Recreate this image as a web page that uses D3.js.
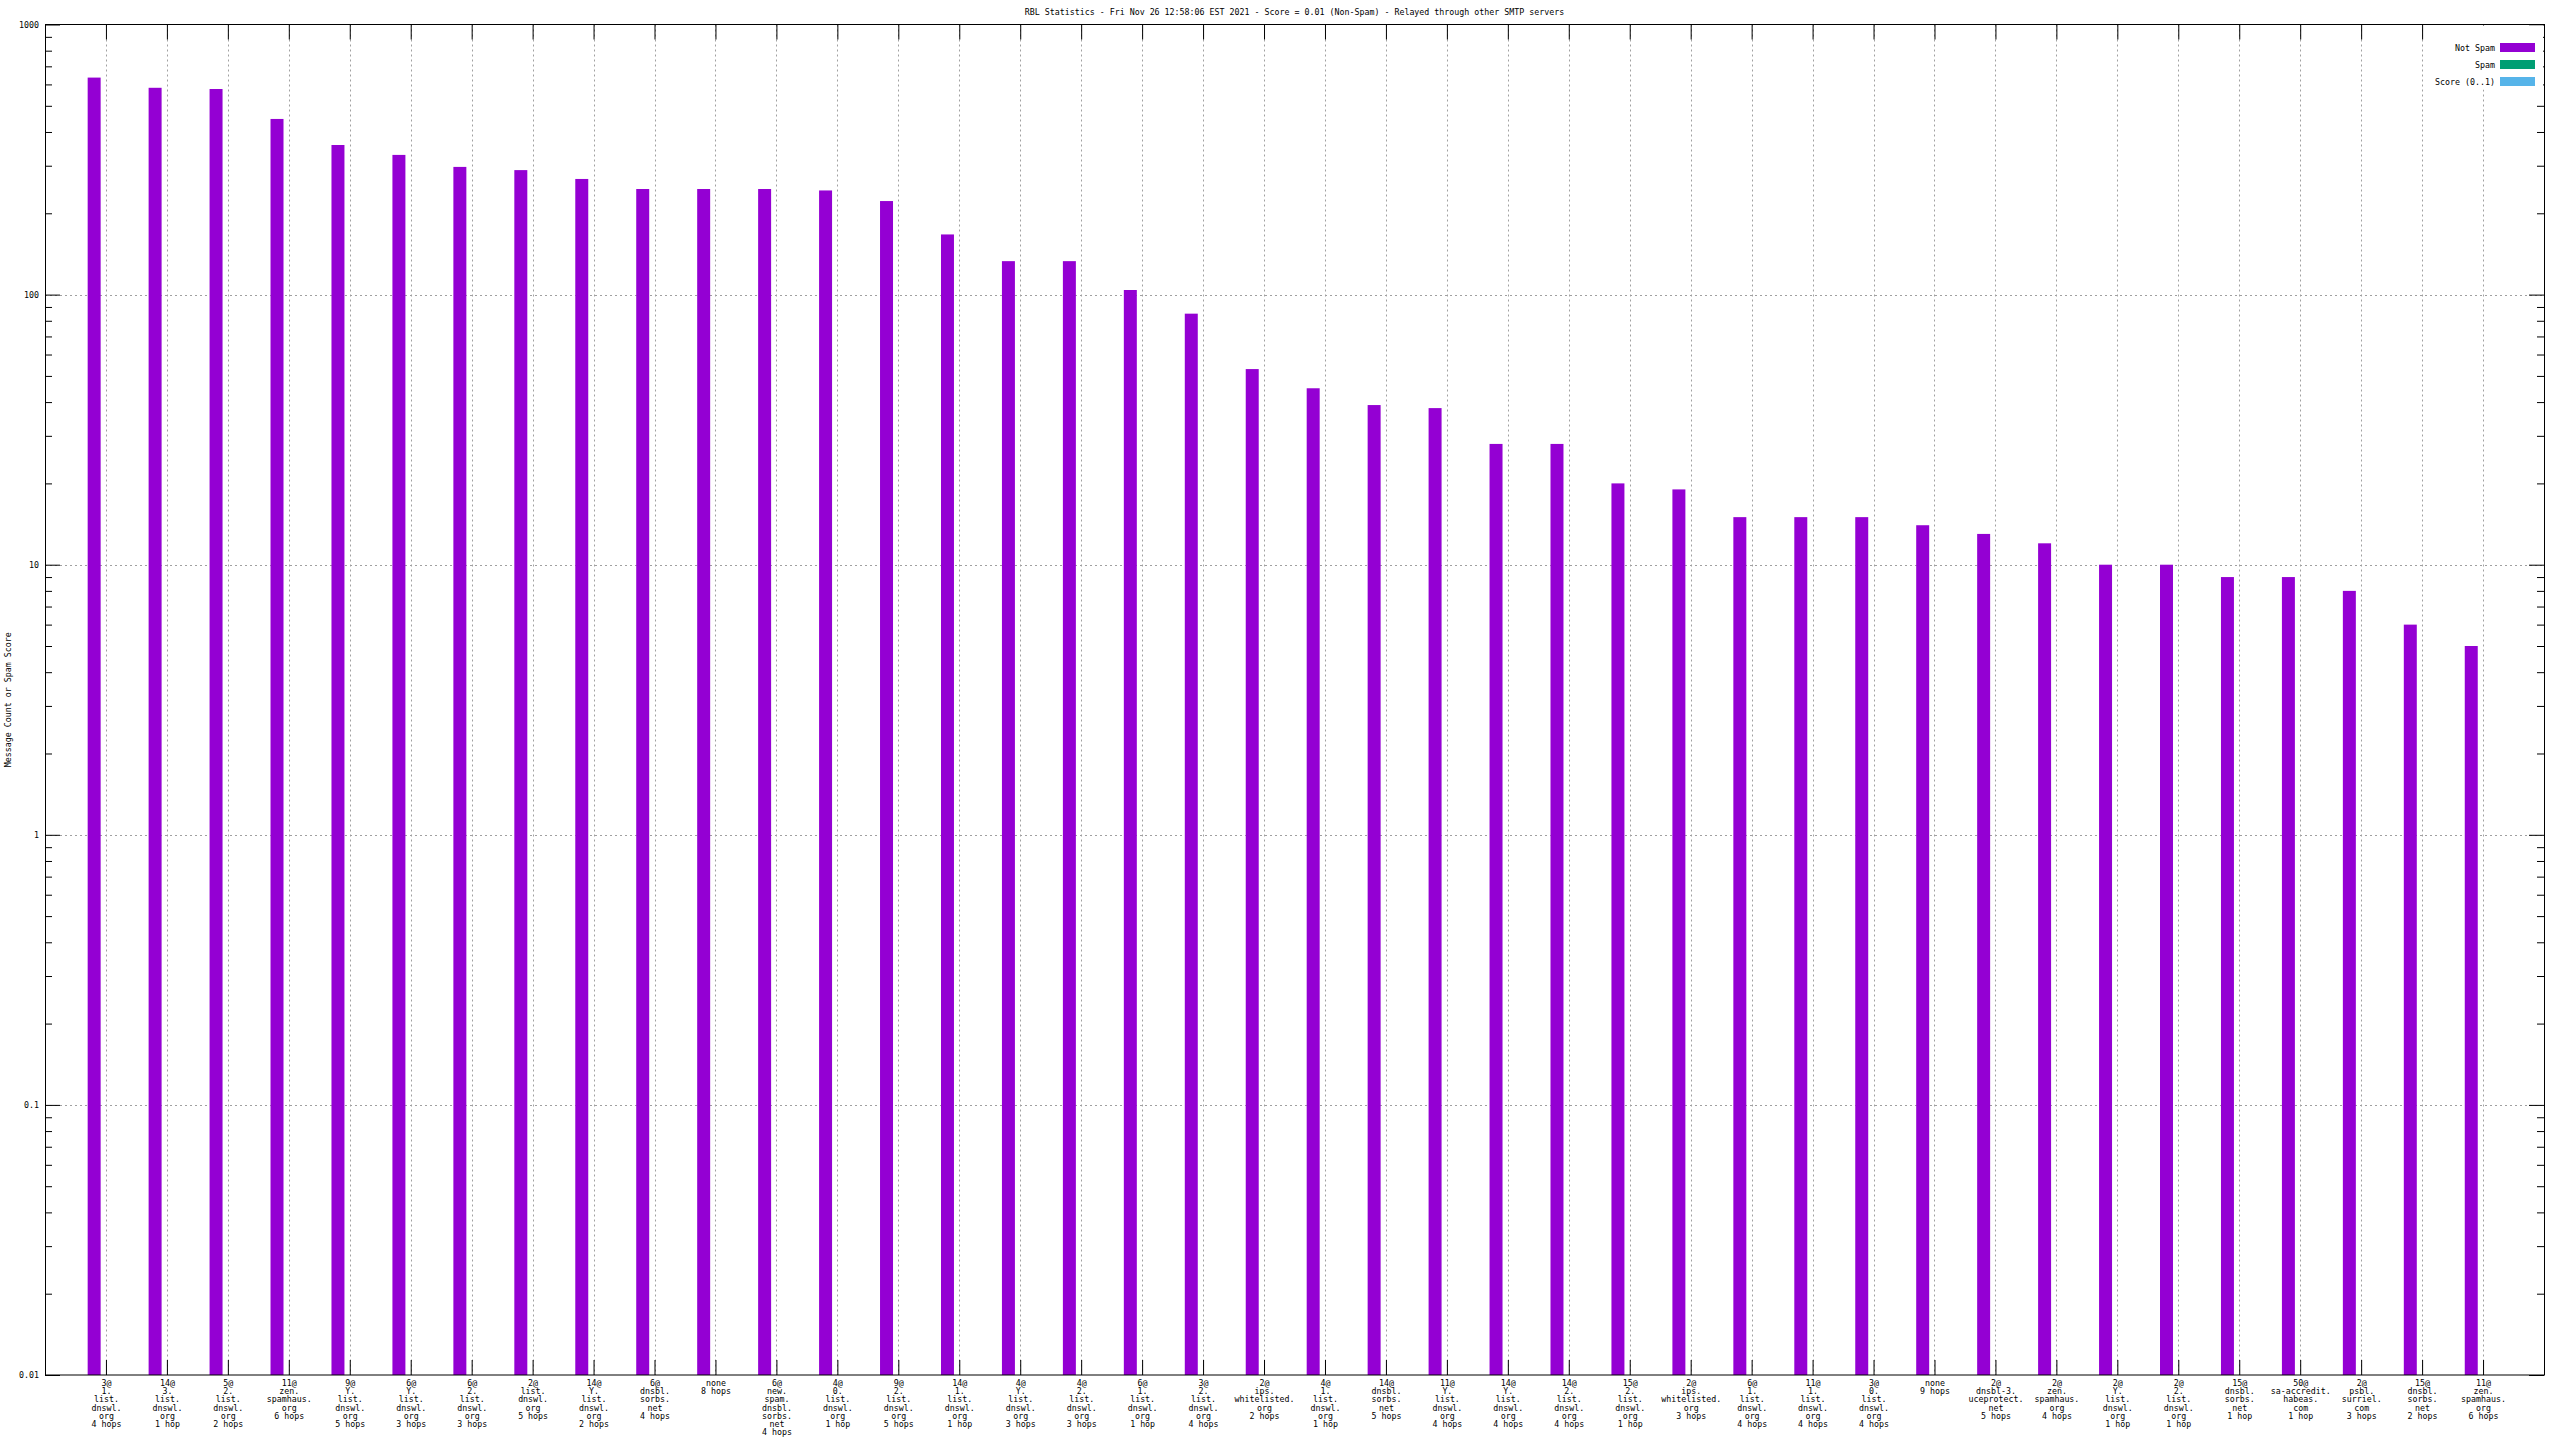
<!DOCTYPE html>
<html>
<head>
<meta charset="utf-8">
<script src="https://cdn.jsdelivr.net/npm/d3@7"></script>
<style>
html,body{margin:0;padding:0;background:#fff;}
svg text{font-family:"DejaVu Sans Mono",monospace;font-size:8.3px;fill:#000;}
</style>
</head>
<body>
<svg id="chart" width="2560" height="1440"></svg>
<script>
const categories = [
 ["3@","1.","list.","dnswl.","org","4 hops"],
 ["14@","3.","list.","dnswl.","org","1 hop"],
 ["5@","2.","list.","dnswl.","org","2 hops"],
 ["11@","zen.","spamhaus.","org","6 hops"],
 ["9@","Y.","list.","dnswl.","org","5 hops"],
 ["6@","Y.","list.","dnswl.","org","3 hops"],
 ["6@","2.","list.","dnswl.","org","3 hops"],
 ["2@","list.","dnswl.","org","5 hops"],
 ["14@","Y.","list.","dnswl.","org","2 hops"],
 ["6@","dnsbl.","sorbs.","net","4 hops"],
 ["none","8 hops"],
 ["6@","new.","spam.","dnsbl.","sorbs.","net","4 hops"],
 ["4@","0.","list.","dnswl.","org","1 hop"],
 ["9@","2.","list.","dnswl.","org","5 hops"],
 ["14@","1.","list.","dnswl.","org","1 hop"],
 ["4@","Y.","list.","dnswl.","org","3 hops"],
 ["4@","2.","list.","dnswl.","org","3 hops"],
 ["6@","1.","list.","dnswl.","org","1 hop"],
 ["3@","2.","list.","dnswl.","org","4 hops"],
 ["2@","ips.","whitelisted.","org","2 hops"],
 ["4@","1.","list.","dnswl.","org","1 hop"],
 ["14@","dnsbl.","sorbs.","net","5 hops"],
 ["11@","Y.","list.","dnswl.","org","4 hops"],
 ["14@","Y.","list.","dnswl.","org","4 hops"],
 ["14@","2.","list.","dnswl.","org","4 hops"],
 ["15@","2.","list.","dnswl.","org","1 hop"],
 ["2@","ips.","whitelisted.","org","3 hops"],
 ["6@","1.","list.","dnswl.","org","4 hops"],
 ["11@","1.","list.","dnswl.","org","4 hops"],
 ["3@","0.","list.","dnswl.","org","4 hops"],
 ["none","9 hops"],
 ["2@","dnsbl-3.","uceprotect.","net","5 hops"],
 ["2@","zen.","spamhaus.","org","4 hops"],
 ["2@","Y.","list.","dnswl.","org","1 hop"],
 ["2@","2.","list.","dnswl.","org","1 hop"],
 ["15@","dnsbl.","sorbs.","net","1 hop"],
 ["50@","sa-accredit.","habeas.","com","1 hop"],
 ["2@","psbl.","surriel.","com","3 hops"],
 ["15@","dnsbl.","sorbs.","net","2 hops"],
 ["11@","zen.","spamhaus.","org","6 hops"]
];
const notSpam = [636,583,577,447,358,329,297,289,268,246,246,246,243,222,167,133,133,104,85,53,
                 45,39,38,28,28,20,19,15,15,15,14,13,12,10,10,9,9,8,6,5];
const spam = [];
const score = [];
const seriesNames = ["Not Spam","Spam","Score (0..1)"];
const seriesColors = ["#9400d3","#009e73","#56b4e9"];
const yTickValues = [0.01,0.1,1,10,100,1000];
const yTickLabels = ["0.01","0.1","1","10","100","1000"];
const title = "RBL Statistics - Fri Nov 26 12:58:06 EST 2021 - Score = 0.01 (Non-Spam) - Relayed through other SMTP servers";
const yTitle = "Message Count or Spam Score";

const L = 45, R = 2544, T = 24.5, B = 1375;
const svg = d3.select("#chart");
const x = d3.scaleLinear().domain([-1, categories.length]).range([L, R]);
const y = d3.scaleLog().domain([0.01, 1000]).range([B, T]);

// minor tick values
const minor = [];
for (let e = -2; e < 3; e++) for (let k = 2; k <= 9; k++) minor.push(k * Math.pow(10, e));

// grid
const grid = svg.append("g").attr("stroke", "#a0a0a0").attr("stroke-width", 1).attr("stroke-dasharray", "2,3");
grid.selectAll("line.v").data(categories).join("line")
  .attr("x1", (d,i) => Math.round(x(i)) + 0.5).attr("x2", (d,i) => Math.round(x(i)) + 0.5)
  .attr("y1", T).attr("y2", B);
grid.selectAll("line.h").data([0.1,1,10,100]).join("line")
  .attr("x1", L).attr("x2", R)
  .attr("y1", d => Math.round(y(d)) + 0.5).attr("y2", d => Math.round(y(d)) + 0.5);

// bars
const bw0 = -0.3, bw1 = -0.087;
svg.append("g").selectAll("rect").data(notSpam).join("rect")
  .attr("x", (d,i) => x(i + bw0))
  .attr("width", (d,i) => x(i + bw1) - x(i + bw0))
  .attr("y", d => y(d))
  .attr("height", d => y(0.01) - y(d))
  .attr("fill", seriesColors[0]);

// axes
function styleAxis(g) {
  g.selectAll(".domain").remove();
  g.selectAll("line").attr("stroke", "#000").attr("stroke-width", 1);
  g.selectAll("text").attr("font-family", "DejaVu Sans Mono").attr("font-size", "8.3px").attr("fill", "#000");
}
// left major
svg.append("g").attr("transform", `translate(${L},0)`)
  .call(d3.axisLeft(y).tickValues(yTickValues).tickSizeInner(-15).tickSizeOuter(0).tickPadding(6)
        .tickFormat((d,i) => yTickLabels[i]))
  .call(styleAxis);
// left minor
svg.append("g").attr("transform", `translate(${L},0)`)
  .call(d3.axisLeft(y).tickValues(minor).tickSizeInner(-7).tickSizeOuter(0).tickFormat(""))
  .call(styleAxis);
// right major + minor (mirror)
svg.append("g").attr("transform", `translate(${R},0)`)
  .call(d3.axisLeft(y).tickValues(yTickValues).tickSizeInner(15).tickSizeOuter(0).tickFormat(""))
  .call(styleAxis);
svg.append("g").attr("transform", `translate(${R},0)`)
  .call(d3.axisLeft(y).tickValues(minor).tickSizeInner(7).tickSizeOuter(0).tickFormat(""))
  .call(styleAxis);
// bottom
const xb = svg.append("g").attr("transform", `translate(0,${B})`)
  .call(d3.axisBottom(x).tickValues(d3.range(categories.length)).tickSizeInner(-15).tickSizeOuter(0).tickFormat(""))
  .call(styleAxis);
xb.selectAll(".tick").each(function(d) {
  const t = d3.select(this).append("text").attr("text-anchor", "middle").attr("y", 0)
    .attr("font-family", "DejaVu Sans Mono").attr("font-size", "8.3px").attr("fill", "#000");
  categories[d].forEach((line, j) => {
    t.append("tspan").attr("x", 0).attr("y", 11 + j * 8.2).text(line);
  });
});
// top
svg.append("g").attr("transform", `translate(0,${T})`)
  .call(d3.axisTop(x).tickValues(d3.range(categories.length)).tickSizeInner(-15).tickSizeOuter(0).tickFormat(""))
  .call(styleAxis);

// legend (opaque)
const leg = svg.append("g");
leg.append("rect").attr("x", 2430).attr("y", T + 1).attr("width", R - 2430 - 1).attr("height", 64).attr("fill", "#fff");
seriesNames.forEach((n, i) => {
  const cy = 47.5 + i * 17;
  leg.append("text").attr("x", 2495).attr("y", cy + 3).attr("text-anchor", "end").text(n);
  leg.append("rect").attr("x", 2500).attr("y", cy - 4.5).attr("width", 35).attr("height", 9).attr("fill", seriesColors[i]);
});

// border
svg.append("rect").attr("x", L + 0.5).attr("y", T).attr("width", R - L).attr("height", B - T)
  .attr("fill", "none").attr("stroke", "#000").attr("stroke-width", 1);

// title
svg.append("text").attr("x", (L + R) / 2).attr("y", 15).attr("text-anchor", "middle").text(title);
// y title
svg.append("text").attr("transform", `translate(11,${(T + B) / 2}) rotate(-90)`).attr("text-anchor", "middle").text(yTitle);
</script>
</body>
</html>
